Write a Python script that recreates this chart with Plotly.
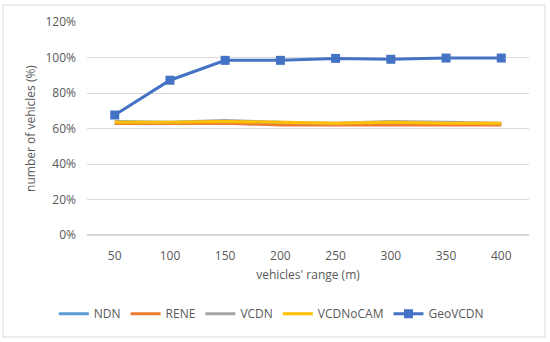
import plotly.graph_objects as go

ranges = ["50", "100", "150", "200", "250", "300", "350", "400"]
ndn = [0.630, 0.630, 0.630, 0.625, 0.625, 0.625, 0.625, 0.625]
rene = [0.628, 0.628, 0.630, 0.620, 0.620, 0.620, 0.620, 0.620]
vcdn = [0.640, 0.635, 0.645, 0.635, 0.630, 0.640, 0.635, 0.630]
vcdnocam = [0.635, 0.635, 0.640, 0.635, 0.630, 0.635, 0.630, 0.630]
geovcdn = [0.676, 0.872, 0.984, 0.984, 0.995, 0.990, 0.997, 0.997]

series = [
    ("NDN", ndn, "#5B9BD5", False),
    ("RENE", rene, "#ED7D31", False),
    ("VCDN", vcdn, "#A5A5A5", False),
    ("VCDNoCAM", vcdnocam, "#FFC000", False),
    ("GeoVCDN", geovcdn, "#4472C4", True),
]

fig = go.Figure()
for name, vals, color, markers in series:
    fig.add_trace(go.Scatter(
        x=ranges, y=vals, name=name,
        mode="lines+markers" if markers else "lines",
        line=dict(color=color, width=3),
        marker=dict(symbol="square", size=9, color=color),
    ))

font = "Open Sans"
fig.update_layout(
    width=550, height=342,
    margin=dict(l=87, r=21, t=22, b=107, autoexpand=False),
    plot_bgcolor="white", paper_bgcolor="white",
    font=dict(family=font, size=12, color="#595959"),
    showlegend=True,
    legend=dict(orientation="h", x=0.417, xanchor="center", y=-0.37, yanchor="middle",
                font=dict(size=12, color="#595959"), itemwidth=30),
    xaxis=dict(type="category", showgrid=False, showline=False, ticks="",
               ticklabelstandoff=12,
               title=dict(text="vehicles' range (m)", standoff=7,
                          font=dict(size=12, color="#595959"))),
    yaxis=dict(range=[0, 1.2], dtick=0.2, tickformat=".0%", showgrid=True,
               gridcolor="#D9D9D9", gridwidth=1, zeroline=True, zerolinecolor="#D9D9D9",
               ticks="", ticklabelstandoff=10,
               title=dict(text="number of vehicles (%)", standoff=7,
                          font=dict(size=12, color="#595959"))),
    shapes=[dict(type="rect", xref="paper", yref="paper",
                 x0=(3 - 87) / 442, x1=(545 - 87) / 442,
                 y0=(235 - 337) / 213, y1=(235 - 5) / 213,
                 line=dict(color="#D9D9D9", width=1), layer="below")],
)

fig.write_html("out.html", config={"displayModeBar": False},
               post_script="document.body.style.margin='0';")
